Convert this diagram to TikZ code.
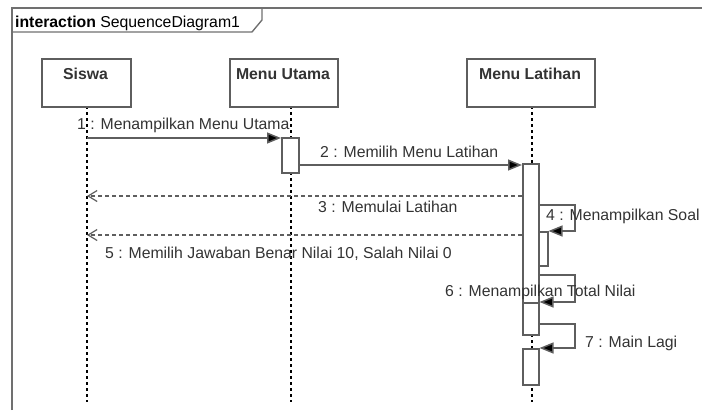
\documentclass[tikz,border=0pt]{standalone}
\usepackage{fontspec}
\setmainfont{Liberation Sans}
\usetikzlibrary{arrows.meta}
\definecolor{linegray}{HTML}{5E5E5E}
\definecolor{framegray}{HTML}{707070}
\definecolor{textgray}{HTML}{333333}
\begin{document}
\begin{tikzpicture}[x=1pt,y=-1pt,
  headbox/.style={draw=linegray,line width=1.5pt,fill=white,minimum width=#1,minimum height=48pt,inner sep=0pt,anchor=north west},
  headtext/.style={font=\bfseries\fontsize{15.8}{18}\selectfont,text=textgray,inner sep=0pt,anchor=base},
  msgtext/.style={font=\fontsize{15.8}{18}\selectfont,text=textgray,inner sep=0pt,anchor=base west},
  act/.style={draw=linegray,line width=1.5pt,fill=white,minimum width=#1,inner sep=0pt,anchor=north west},
  lifeline/.style={draw=black,line width=1.2pt,dash pattern=on 3pt off 3pt},
  msg/.style={draw=linegray,line width=1.5pt,-{Triangle[length=14pt,width=11pt,fill=black]}},
  ret/.style={draw=linegray,line width=1.4pt,dash pattern=on 4pt off 3pt,-{Straight Barb[length=9pt,width=11pt,line width=1.2pt]}}]
\useasboundingbox (0,0) rectangle (702,410);
% frame
\draw[framegray,line width=1.6pt] (12,410) -- (12,8) -- (702,8);
\draw[framegray,line width=1.4pt] (12,32) -- (252,32) -- (262,20) -- (262,8);
\node[font=\fontsize{15.8}{18}\selectfont,text=black,inner sep=0pt,anchor=base west] (title) at (15,27) {\textbf{interaction} SequenceDiagram1};
% lifelines
\draw[lifeline] (87,106) -- (87,402);
\draw[lifeline] (291,106) -- (291,402);
\draw[lifeline] (532,106) -- (532,402);
% heads
\node[headbox=89pt] (siswa) at (41,58) {};
\node[headbox=108pt] (utama) at (229,58) {};
\node[headbox=128pt] (latihan) at (466,58) {};
\node[headtext] (tsiswa) at (85.5,79) {Siswa};
\node[headtext] (tutama) at (283,79) {Menu Utama};
\node[headtext] (tlatihan) at (530,79) {Menu Latihan};
% activations
\node[act=17pt,minimum height=35pt] (a1) at (281,137) {};
\node[act=16pt,minimum height=139pt] (a2) at (522,163) {};
\node[act=9pt,minimum height=34pt] (a3) at (538,231) {};
\node[act=16pt,minimum height=32pt] (a4) at (522,302) {};
\node[act=16pt,minimum height=36pt] (a5) at (522,348) {};
% coordinates
\coordinate (s1) at (87,138);
\coordinate (s2) at (298,165);
\coordinate (s3) at (87,196);
\coordinate (r4) at (575,205);
\coordinate (s5) at (87,235);
\coordinate (r6) at (575,275);
\coordinate (r7) at (575,324);
% messages
\draw[msg] (s1) -- (s1 -| a1.west);
\draw[msg] (s2 -| a1.east) -- (s2 -| a2.west);
\draw[ret] (s3 -| a2.west) -- (s3);
\draw[msg] (r4 -| a2.east) -- (r4) -- (r4 |- a3.north) -- (a3.north east);
\draw[ret] (s5 -| a2.west) -- (s5);
\draw[msg] (r6 -| a2.east) -- (r6) -- (r6 |- a4.north) -- (a4.north east);
\draw[msg] (r7 -| a4.east) -- (r7) -- (r7 |- a5.north) -- (a5.north east);
% labels
\node[msgtext] (l1) at (77,129) {1 : Menampilkan Menu Utama};
\node[msgtext] (l2) at (320,157) {2 : Memilih Menu Latihan};
\node[msgtext] (l3) at (318,212) {3 : Memulai Latihan};
\node[msgtext] (l4) at (546,220) {4 : Menampilkan Soal};
\node[msgtext] (l5) at (105,258) {5 : Memilih Jawaban Benar Nilai 10, Salah Nilai 0};
\node[msgtext] (l6) at (445,296) {6 : Menampilkan Total Nilai};
\node[msgtext] (l7) at (585,347) {7 : Main Lagi};
\end{tikzpicture}
\end{document}
